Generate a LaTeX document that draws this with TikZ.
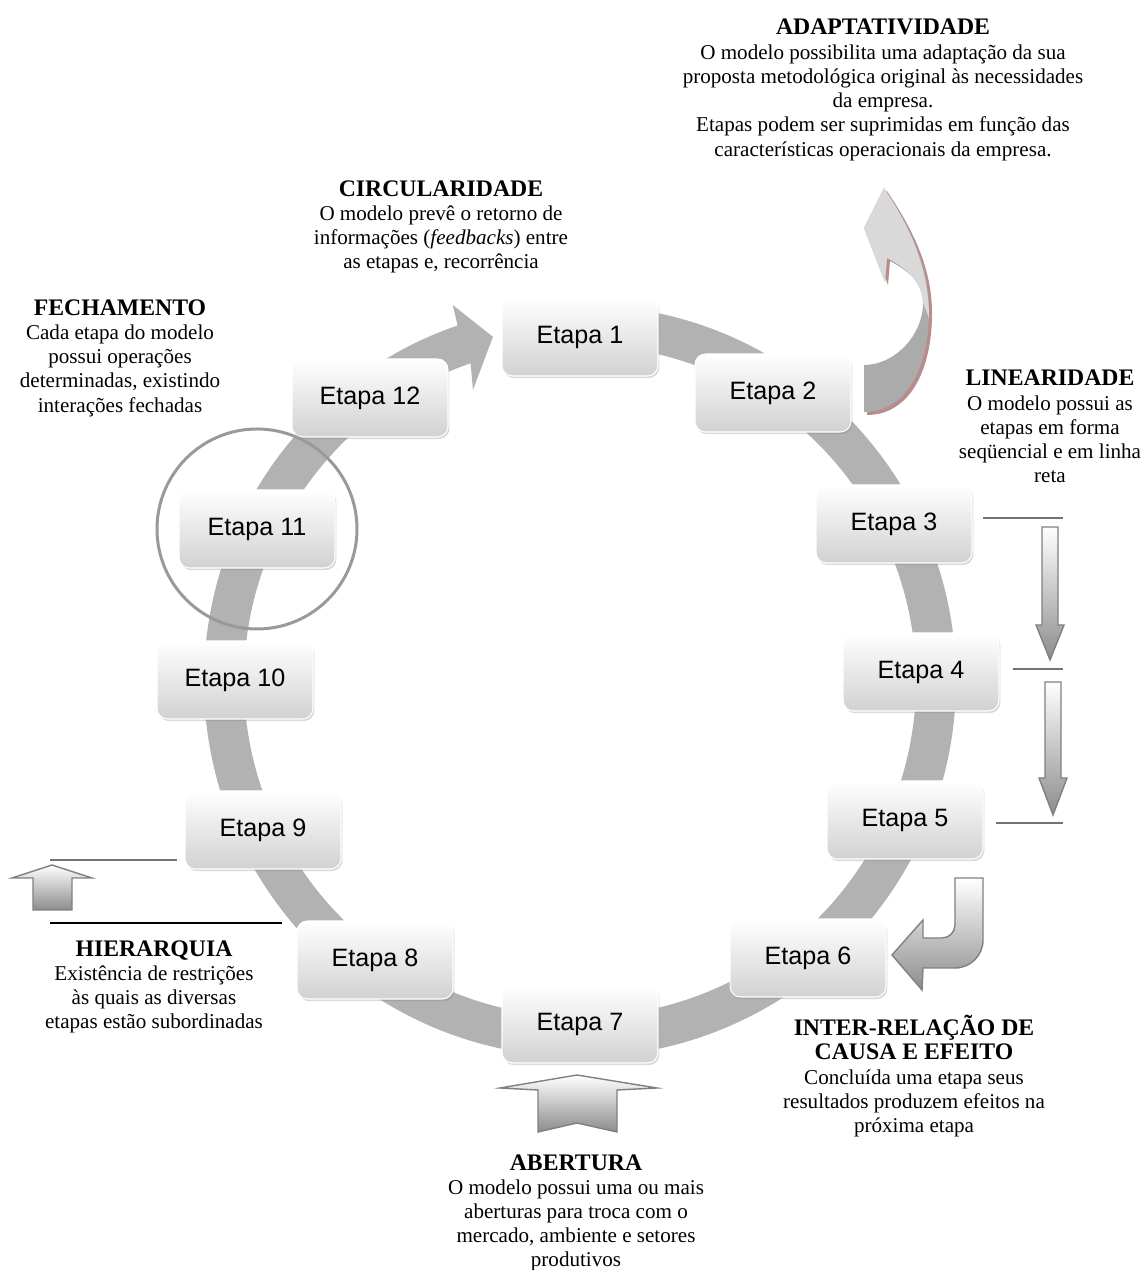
\documentclass[tikz,border=0pt]{standalone}
\usepackage{fontspec}
\setmainfont{Liberation Serif}
\newfontfamily\etapafont{Liberation Sans}
\usetikzlibrary{shadows,calc}

\definecolor{sombra}{RGB}{185,140,140}
\newcommand{\tit}[1]{{\fontsize{13.5}{15}\selectfont\bfseries #1}}

\tikzset{
  etapa/.style={rounded corners=6pt, minimum width=3.12cm, minimum height=1.56cm,
    top color=white, bottom color=black!18, draw=white, line width=0.6pt,
    drop shadow={opacity=0.3, shadow xshift=0.8pt, shadow yshift=-1.2pt},
    font=\etapafont\fontsize{14.3}{17}\selectfont},
  texto/.style={align=center, anchor=north, inner sep=0pt, font=\fontsize{12}{13.8}\selectfont},
  faixa/.style={fill=black!30},
  seta/.style={draw=black!50, line width=0.8pt, top color=white, bottom color=black!45, line join=miter},
  traco/.style={draw=black!55, line width=1.1pt},
}

\begin{document}
\begin{tikzpicture}[x=0.02cm, y=0.02cm, line cap=butt, line join=round]

  \useasboundingbox (0,0) rectangle (1143,1270);

  % Gray ring with arrow head (Etapa 12 -> Etapa 1)
  \begin{scope}[shift={(580,589)}]
    \fill[faixa] (85:376) arc[start angle=85, end angle=-251, radius=376]
      -- (-251.3:397) -- (-255.8:355) -- (-249.8:310) -- (-251:336)
      arc[start angle=-251, end angle=85, radius=336] -- cycle;
  \end{scope}

  % Etapas
  \foreach \n/\px/\py in {1/580/933, 2/773/877, 3/894/746, 4/921/598,
      5/905/450, 6/808/312, 7/580/246, 8/375/310, 9/263/440, 10/235/590,
      11/257/741, 12/370/872} {
    \node[etapa] (e\n) at (\px,\py) {Etapa \n};
  }

  % Fechamento circle
  \draw[black!40, line width=1.7pt] (e11) circle[radius=100];

  % Adaptatividade arrow
  \fill[sombra, shift={(3,-3)}]
    (864,858) .. controls (905,858) and (929,900) .. (929,960)
    .. controls (929,1010) and (905,1050) .. (884,1082) -- (864,1042) -- (885,988)
    -- (887,1012) .. controls (910,1000) and (923,985) .. (923,967)
    .. controls (923,935) and (895,905) .. (864,905) -- cycle;
  \fill[black!33]
    (864,858) .. controls (905,858) and (929,900) .. (929,960)
    .. controls (929,1010) and (905,1050) .. (884,1082) -- (864,1042) -- (885,988)
    -- (887,1012) .. controls (910,1000) and (923,985) .. (923,967)
    .. controls (923,935) and (895,905) .. (864,905) -- cycle;
  \fill[black!15] (923,967) -- (929,952) .. controls (929,1008) and (905,1050) .. (884,1082)
    -- (864,1042) -- (885,988) -- (887,1012) .. controls (910,1000) and (923,985) .. (923,967)
    -- cycle;

  % Linearidade
  \coordinate (lin) at (1063,0);
  \coordinate (l3) at ($(e3.east)+(10,6)$);
  \coordinate (l4) at ($(e4.east)+(13,3)$);
  \coordinate (l5) at ($(e5.east)+(12,-3)$);
  \draw[traco] (l3) -- (l3 -| lin);
  \draw[traco] (l4) -- (l4 -| lin);
  \draw[traco] (l5) -- (l5 -| lin);
  \draw[seta] (1042,743) -- (1058,743) -- (1058,645) -- (1064,645) -- (1050,610)
    -- (1036,645) -- (1042,645) -- cycle;
  \draw[seta] (1045,588) -- (1061,588) -- (1061,492) -- (1067,492) -- (1053,455)
    -- (1039,492) -- (1045,492) -- cycle;

  % Inter-relacao de causa e efeito
  \draw[seta] (955,392) -- (983,392) -- (983,330) arc[start angle=0, end angle=-90, radius=28]
    -- (923,302) -- (922,280) -- (892,315) -- (923,350) -- (923,332) -- (942,332)
    arc[start angle=-90, end angle=0, radius=13] -- cycle;

  % Abertura
  \draw[seta] (538,138) -- (538,180) -- (500,182) -- (577,195) -- (657,182)
    -- (617,180) -- (617,138) -- (577,147) -- cycle;

  % Hierarquia
  \coordinate (h1) at (50,410);
  \coordinate (h2) at (50,347);
  \draw[traco] (h1) -- ($(e9.west)+(-7,-30)$);
  \draw[black, line width=1.1pt] (h2) -- ($(e8.west)+(-14,37)$);
  \draw[seta] (33,360) -- (33,392) -- (12,392) -- (52,405) -- (92,392)
    -- (72,392) -- (72,360) -- cycle;

  % Textos
  \node[texto] (adapt) at (883,1251) {\tit{ADAPTATIVIDADE}\\
    O modelo possibilita uma adaptação da sua\\
    proposta metodológica original às necessidades\\
    da empresa.\\
    Etapas podem ser suprimidas em função das\\
    características operacionais da empresa.};
  \node[texto] (circ) at (441,1090) {\tit{CIRCULARIDADE}\\
    O modelo prevê o retorno de\\
    informações (\textit{feedbacks}) entre\\
    as etapas e, recorrência};
  \node[texto] (fecha) at (120,971) {\tit{FECHAMENTO}\\
    Cada etapa do modelo\\
    possui operações\\
    determinadas, existindo\\
    interações fechadas};
  \node[texto] (linear) at (1050,900) {\tit{LINEARIDADE}\\
    O modelo possui as\\
    etapas em forma\\
    seqüencial e em linha\\
    reta};
  \node[texto] (hier) at (154,330) {\tit{HIERARQUIA}\\
    Existência de restrições\\
    às quais as diversas\\
    etapas estão subordinadas};
  \node[texto] (inter) at (914,255) {\tit{INTER-RELAÇÃO DE}\\
    \tit{CAUSA E EFEITO}\\
    Concluída uma etapa seus\\
    resultados produzem efeitos na\\
    próxima etapa};
  \node[texto] (abert) at (576,116) {\tit{ABERTURA}\\
    O modelo possui uma ou mais\\
    aberturas para troca com o\\
    mercado, ambiente e setores\\
    produtivos};

\end{tikzpicture}
\end{document}
